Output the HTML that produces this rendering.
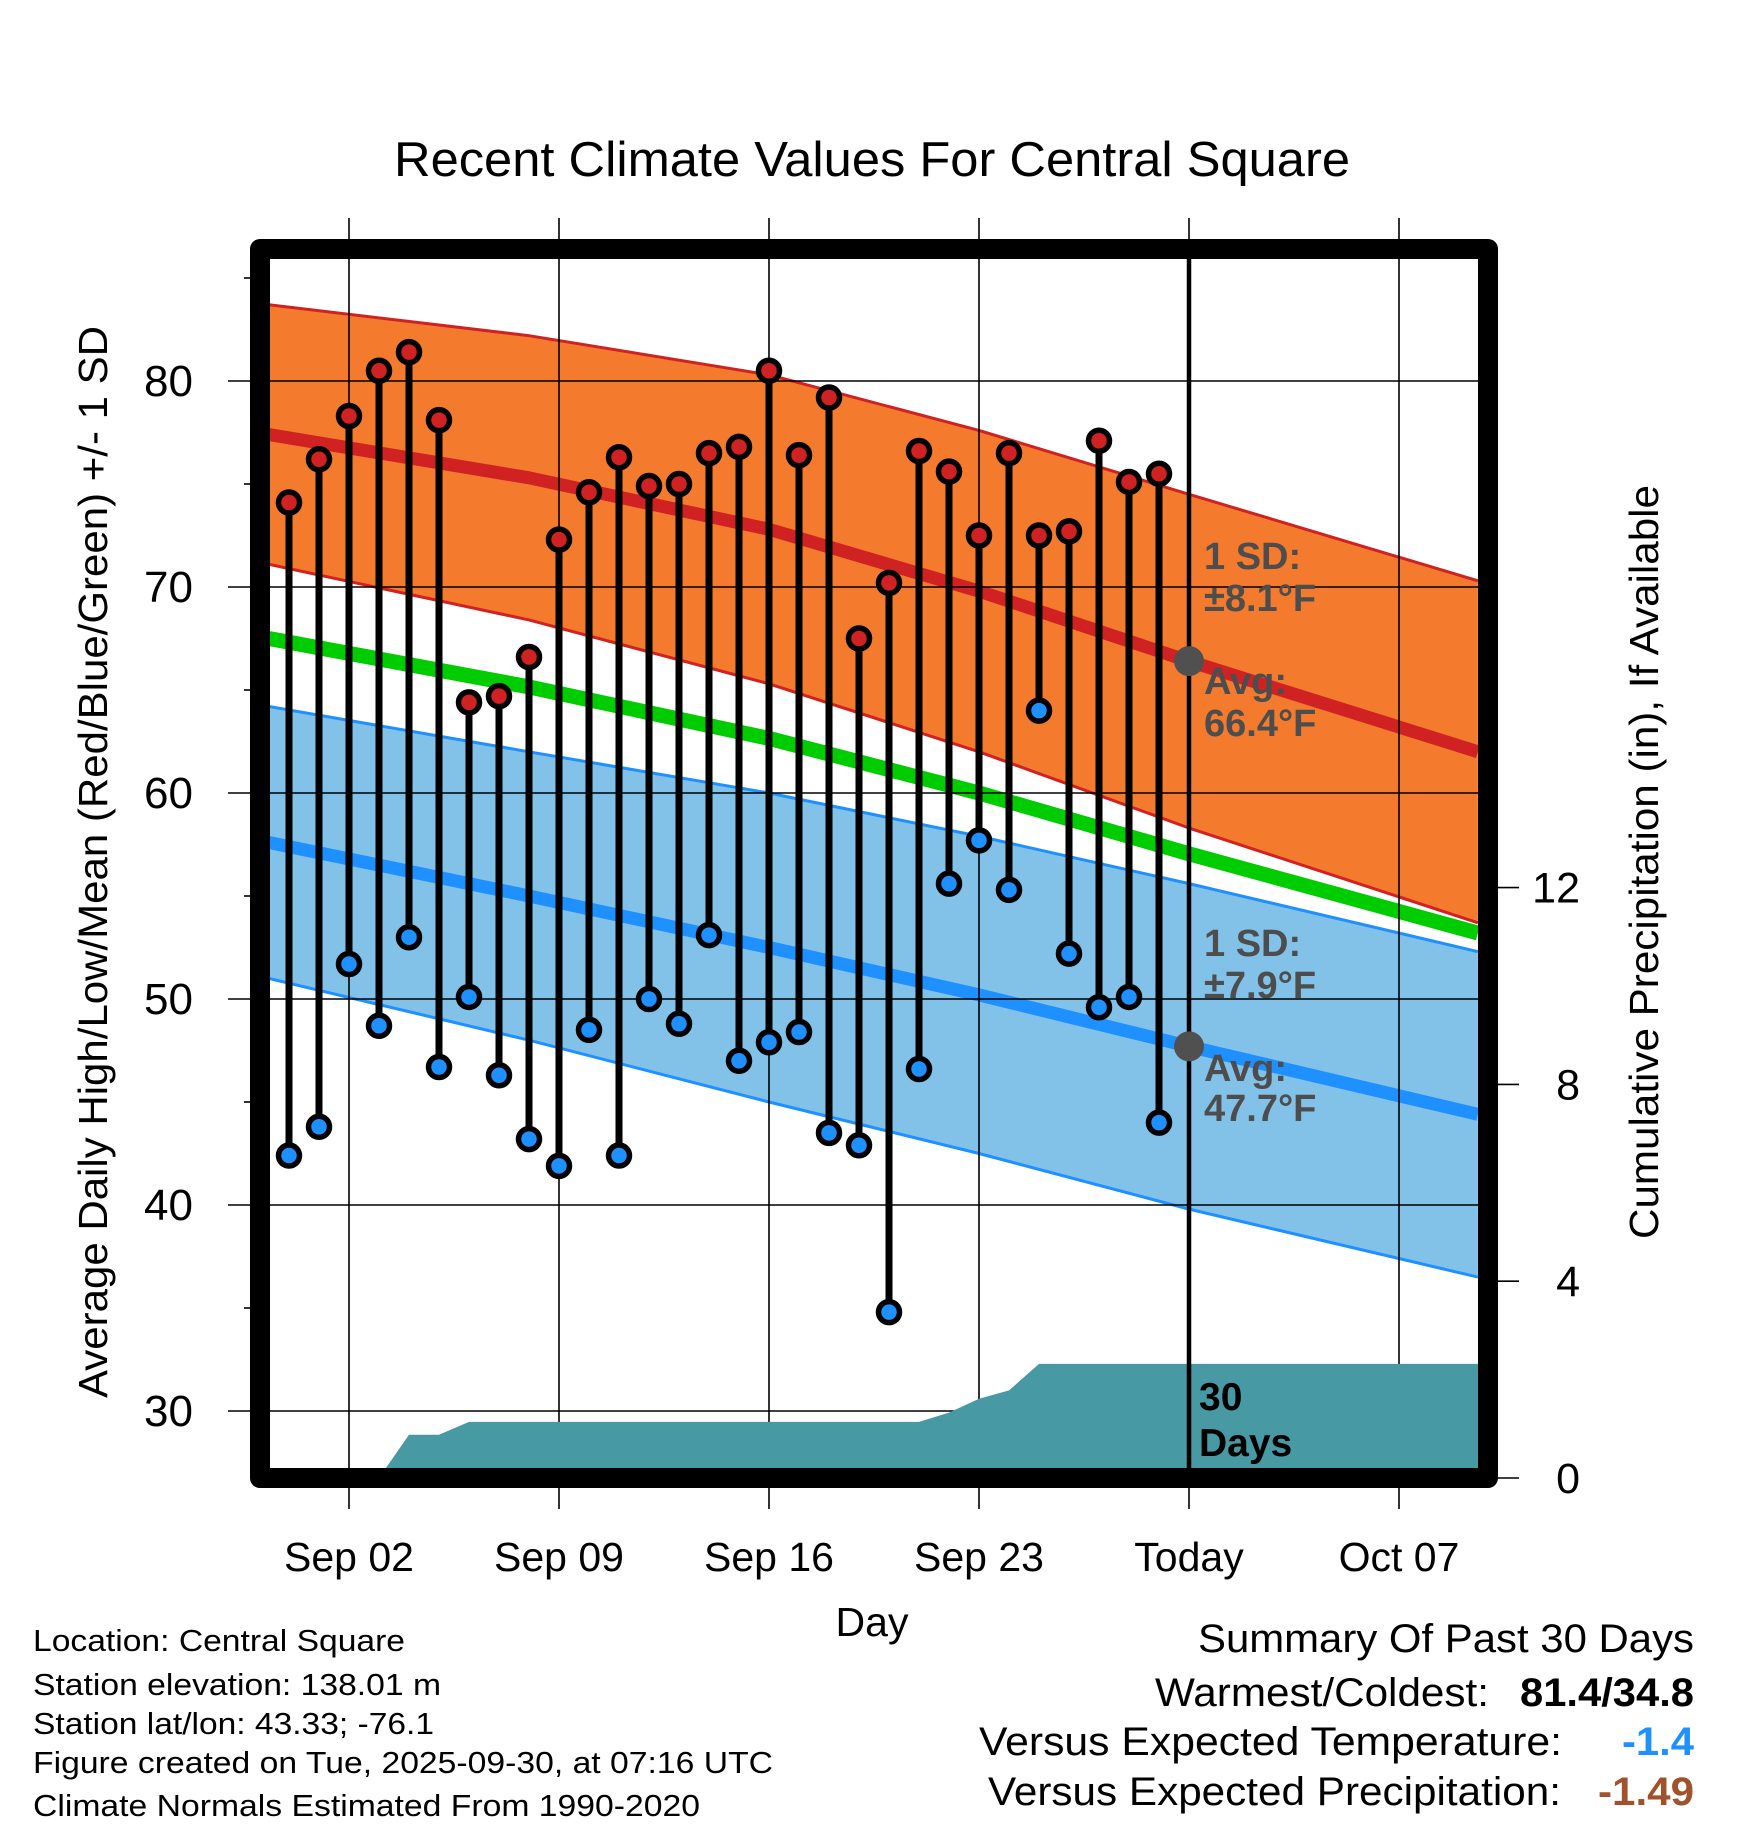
<!DOCTYPE html>
<html><head><meta charset="utf-8"><style>
html,body{margin:0;padding:0;background:#fff;}
svg{display:block;font-family:"Liberation Sans",sans-serif;}
</style></head><body>
<svg id="chart" width="1748" height="1828" viewBox="0 0 1748 1828" xmlns="http://www.w3.org/2000/svg">
<defs><clipPath id="plotclip"><rect x="269" y="259" width="1209" height="1209"/></clipPath></defs>
<text x="872" y="176" font-size="49" text-anchor="middle" textLength="956" lengthAdjust="spacingAndGlyphs">Recent Climate Values For Central Square</text>
<g id="bands" clip-path="url(#plotclip)"></g>
<g id="grid"></g>
<g id="precip" clip-path="url(#plotclip)"></g>
<g id="marks"></g>
<g id="annot"></g>
<path d="M260 249 H1488 V1478 H260 Z" fill="none" stroke="#000" stroke-width="20" stroke-linejoin="round"/>
<g id="axes"></g>
<text transform="translate(107,862) rotate(-90)" font-size="41" text-anchor="middle" textLength="1072" lengthAdjust="spacingAndGlyphs">Average Daily High/Low/Mean (Red/Blue/Green) +/- 1 SD</text>
<text transform="translate(1658,862) rotate(-90)" font-size="41" text-anchor="middle" textLength="754" lengthAdjust="spacingAndGlyphs">Cumulative Precipitation (in), If Available</text>
<text x="872" y="1636" font-size="41" text-anchor="middle">Day</text>
<g font-size="31">
<text x="33" y="1651" textLength="372" lengthAdjust="spacingAndGlyphs">Location: Central Square</text>
<text x="33" y="1695" textLength="408" lengthAdjust="spacingAndGlyphs">Station elevation: 138.01 m</text>
<text x="33" y="1734" textLength="401" lengthAdjust="spacingAndGlyphs">Station lat/lon: 43.33; -76.1</text>
<text x="33" y="1773" textLength="740" lengthAdjust="spacingAndGlyphs">Figure created on Tue, 2025-09-30, at 07:16 UTC</text>
<text x="33" y="1816" textLength="667" lengthAdjust="spacingAndGlyphs">Climate Normals Estimated From 1990-2020</text>
</g>
<g font-size="40">
<text x="1198" y="1652" textLength="496" lengthAdjust="spacingAndGlyphs">Summary Of Past 30 Days</text>
<text x="1155" y="1706" textLength="334" lengthAdjust="spacingAndGlyphs">Warmest/Coldest:</text>
<text x="1520" y="1706" font-weight="bold" textLength="174" lengthAdjust="spacingAndGlyphs">81.4/34.8</text>
<text x="979" y="1755" textLength="583" lengthAdjust="spacingAndGlyphs">Versus Expected Temperature:</text>
<text x="1622" y="1755" font-weight="bold" fill="#1e90ff" textLength="72" lengthAdjust="spacingAndGlyphs">-1.4</text>
<text x="988" y="1805" textLength="573" lengthAdjust="spacingAndGlyphs">Versus Expected Precipitation:</text>
<text x="1598" y="1805" font-weight="bold" fill="#a0522d" textLength="96" lengthAdjust="spacingAndGlyphs">-1.49</text>
</g>
</svg>
<script>
// days relative to Aug 31 (index 0)
const highs=[74.1,76.2,78.3,80.5,81.4,78.1,64.4,64.7,66.6,72.3,74.6,76.3,74.9,75.0,76.5,76.8,80.5,76.4,79.2,67.5,70.2,76.6,75.6,72.5,76.5,72.5,72.7,77.1,75.1,75.5];
const lows=[42.4,43.8,51.7,48.7,53.0,46.7,50.1,46.3,43.2,41.9,48.5,42.4,50.0,48.8,53.1,47.0,47.9,48.4,43.5,42.9,34.8,46.6,55.6,57.7,55.3,64.0,52.2,49.6,50.1,44.0];
const precipCum=[0,0,0,0,0.88,0.88,1.14,1.14,1.14,1.14,1.14,1.14,1.14,1.14,1.14,1.14,1.14,1.14,1.14,1.14,1.14,1.14,1.33,1.61,1.78,2.32,2.32,2.32,2.32,2.32];
const normDays=[-0.67,8,16,23,30,39.63];
const normHighMean=[77.4,75.3,72.8,69.8,66.4,62.0];
const normHighSD=[6.3,6.9,7.5,7.8,8.1,8.3];
const normLowMean=[57.6,55.0,52.5,50.2,47.7,44.4];
const normLowSD=[6.6,7.0,7.5,7.7,7.9,7.9];
const xTickDays=[2,9,16,23,30,37];
const xTickLabels=["Sep 02","Sep 09","Sep 16","Sep 23","Today","Oct 07"];
const yTicks=[30,40,50,60,70,80];
const yMinor=[35,45,55,65,75,85];
const y2Ticks=[0,4,8,12];
const todayDay=30, todayHigh=66.4, todayLow=47.7;

const X=d=>289+d*30;
const Y=v=>381+(80-v)*20.6;
const Y2=p=>1478-p*49.2;
const NS="http://www.w3.org/2000/svg";
function mk(parent,tag,attrs){const e=document.createElementNS(NS,tag);for(const k in attrs)e.setAttribute(k,attrs[k]);document.getElementById(parent).appendChild(e);return e;}
function pts(days,vals){return days.map((d,i)=>X(d)+","+Y(vals[i])).join(" ");}

const hiUp=normHighMean.map((m,i)=>m+normHighSD[i]), hiLo=normHighMean.map((m,i)=>m-normHighSD[i]);
const loUp=normLowMean.map((m,i)=>m+normLowSD[i]), loLo=normLowMean.map((m,i)=>m-normLowSD[i]);
const mean=normHighMean.map((m,i)=>(m+normLowMean[i])/2);
const rev=a=>a.slice().reverse();

let e;
e=mk('bands','polygon',{points:pts(normDays,hiUp)+" "+pts(rev(normDays),rev(hiLo)),fill:"#f47a2d"});


e=mk('bands','polygon',{points:pts(normDays,loUp)+" "+pts(rev(normDays),rev(loLo)),fill:"#82c1e8"});


[[hiUp,"#d02222",3,'high-band-upper'],[hiLo,"#d02222",3,'high-band-lower'],[loUp,"#1e90ff",3,'low-band-upper'],[loLo,"#1e90ff",3,'low-band-lower'],[mean,"#00cc00",15,'mean-normal-line'],[normHighMean,"#d02222",13,'high-normal-line'],[normLowMean,"#1e90ff",13,'low-normal-line']].forEach(s=>{
 e=mk('bands','polyline',{points:pts(normDays,s[0]),fill:"none",stroke:s[1],"stroke-width":s[2],"stroke-linejoin":"round"});
 
 
});

yTicks.forEach(v=>{
 e=mk('grid','line',{x1:228,x2:1478,y1:Y(v),y2:Y(v),stroke:"#000","stroke-width":1.6});
 
 
 e=mk('axes','text',{x:193,y:Y(v)+15,"font-size":44,"text-anchor":"end"});
 e.textContent=v;
 
 
});
yMinor.forEach(v=>{
 e=mk('grid','line',{x1:244,x2:260,y1:Y(v),y2:Y(v),stroke:"#000","stroke-width":1.6});
 
 
});
xTickDays.forEach((d,i)=>{
 e=mk('grid','line',{x1:X(d),x2:X(d),y1:218,y2:1509,stroke:"#000","stroke-width":1.6});
 
 
 e=mk('axes','text',{x:X(d),y:1571,"font-size":41,"text-anchor":"middle"});
 e.textContent=xTickLabels[i];
 
 
});
y2Ticks.forEach(p=>{
 e=mk('axes','line',{x1:1488,x2:1519,y1:Y2(p),y2:Y2(p),stroke:"#000","stroke-width":1.6});
 
 
 e=mk('axes','text',{x:1580,y:Y2(p)+15,"font-size":43,"text-anchor":"end"});
 e.textContent=p;
 
 
});

let pp=precipCum.map((p,i)=>X(i)+","+Y2(p)).join(" ");
pp=X(0)+","+Y2(0)+" "+pp+" 1480,"+Y2(precipCum[precipCum.length-1])+" 1480,1480 "+X(0)+",1480";
e=mk('precip','polygon',{points:pp,fill:"#4799a3"});



e=mk('marks','line',{x1:X(todayDay),x2:X(todayDay),y1:259,y2:1468,stroke:"#000","stroke-width":4.5});



highs.forEach((h,i)=>{
 e=mk('marks','line',{x1:X(i),x2:X(i),y1:Y(h),y2:Y(lows[i]),stroke:"#000","stroke-width":7});
 
 
});
highs.forEach((h,i)=>{
 e=mk('marks','circle',{cx:X(i),cy:Y(h),r:10.5,fill:"#d02222",stroke:"#000","stroke-width":5.5});
 
 
 e=mk('marks','circle',{cx:X(i),cy:Y(lows[i]),r:10.5,fill:"#1e90ff",stroke:"#000","stroke-width":5.5});
 
 
});

[[todayHigh,'today-high-normal-dot'],[todayLow,'today-low-normal-dot']].forEach(a=>{
 e=mk('annot','circle',{cx:X(todayDay),cy:Y(a[0]),r:15,fill:"#505050"});
 
 
});
const ann=[["1 SD:",569],["±8.1°F",611],["Avg:",694],["66.4°F",736],["1 SD:",956],["±7.9°F",998],["Avg:",1081],["47.7°F",1121]];
ann.forEach(a=>{
 e=mk('annot','text',{x:1204,y:a[1],"font-size":38,"font-weight":"bold",fill:"#4d4d4d"});
 e.textContent=a[0];
 
 
});
[["30",1410],["Days",1456]].forEach(a=>{
 e=mk('annot','text',{x:1199,y:a[1],"font-size":39,"font-weight":"bold",fill:"#000"});
 e.textContent=a[0];
 
 
});
</script>
</body></html>
